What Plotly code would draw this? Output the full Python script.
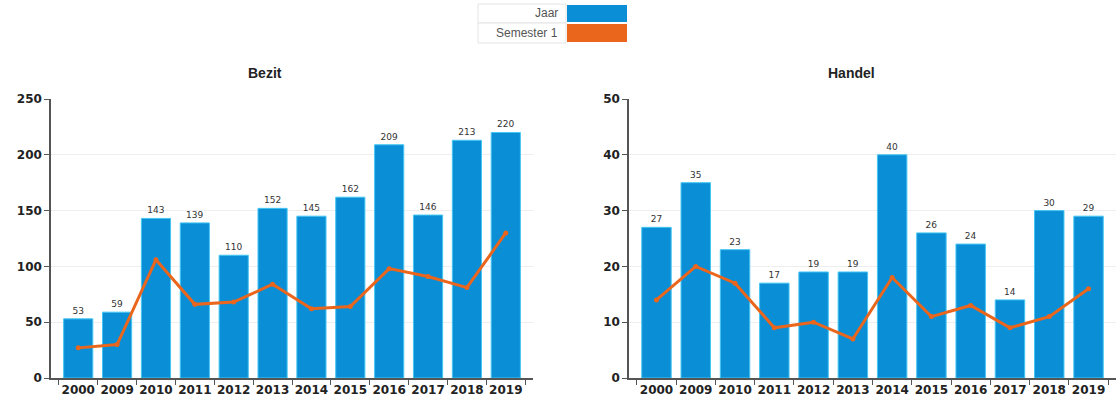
import plotly.graph_objects as go

years = ["2000", "2009", "2010", "2011", "2012", "2013", "2014", "2015", "2016", "2017", "2018", "2019"]
bezit_jaar = [53, 59, 143, 139, 110, 152, 145, 162, 209, 146, 213, 220]
bezit_sem1 = [27, 30, 106, 66, 68, 84, 62, 64, 98, 91, 81, 130]
handel_jaar = [27, 35, 23, 17, 19, 19, 40, 26, 24, 14, 30, 29]
handel_sem1 = [14, 20, 17, 9, 10, 7, 18, 11, 13, 9, 11, 16]
series_names = ["Jaar", "Semester 1"]
titles = ["Bezit", "Handel"]

BLUE = "#0a8ed6"
EDGE = "#45c6f3"
ORANGE = "#ea661d"

W, H = 1117, 400
def px(x):
    return x / W
def py(y):
    return 1 - y / H

fig = go.Figure()

for i, (jaar, sem) in enumerate([(bezit_jaar, bezit_sem1), (handel_jaar, handel_sem1)]):
    xa = "x" if i == 0 else "x2"
    ya = "y" if i == 0 else "y2"
    fig.add_trace(go.Bar(
        x=years, y=jaar, name=series_names[0], xaxis=xa, yaxis=ya,
        marker=dict(color=BLUE, line=dict(color=EDGE, width=1)),
        text=[str(v) for v in jaar], textposition="outside",
        textfont=dict(family="DejaVu Sans", size=9, color="#333333"),
        cliponaxis=False, showlegend=False,
    ))
    fig.add_trace(go.Scatter(
        x=years, y=sem, name=series_names[1], xaxis=xa, yaxis=ya,
        mode="lines+markers",
        line=dict(color=ORANGE, width=3),
        marker=dict(color=ORANGE, size=5),
        showlegend=False,
    ))

tickfont = dict(family="DejaVu Sans", size=12, color="#222222", weight="bold")
common_x = dict(type="category", tickson="boundaries", ticks="outside", ticklen=5,
                tickcolor="#555555", showline=True, linecolor="#555555", linewidth=1.5,
                tickfont=tickfont, showgrid=False, tickangle=0, automargin=False)
common_y = dict(ticks="outside", ticklen=5, tickcolor="#555555", showline=True,
                linecolor="#555555", linewidth=1.5, tickfont=tickfont,
                showgrid=True, gridcolor="#eeeeee", zeroline=False, automargin=False)

fig.update_layout(
    width=W, height=H,
    margin=dict(l=0, r=0, t=0, b=0),
    plot_bgcolor="white", paper_bgcolor="white",
    bargap=0.25,
    xaxis=dict(common_x, domain=[px(51), px(533)], anchor="y"),
    yaxis=dict(common_y, domain=[py(378), py(99)], range=[0, 250], dtick=50, anchor="x"),
    xaxis2=dict(common_x, domain=[px(629), px(1116)], anchor="y2"),
    yaxis2=dict(common_y, domain=[py(378), py(99)], range=[0, 50], dtick=10, anchor="x2"),
)

# subplot titles
for t, xc in zip(titles, [265, 851]):
    fig.add_annotation(text=t, x=px(xc), y=py(73), xref="paper", yref="paper",
                       showarrow=False, xanchor="center", yanchor="middle",
                       font=dict(family="Liberation Sans", size=14, color="#222222", weight="bold"))

# legend table
rows = [(4, 23), (23, 43)]
colors = [BLUE, ORANGE]
for (y0, y1), name, c in zip(rows, series_names, colors):
    fig.add_shape(type="rect", xref="paper", yref="paper",
                  x0=px(478), x1=px(566), y0=py(y1), y1=py(y0),
                  line=dict(color="#e4e4e4", width=1), fillcolor="white")
    fig.add_shape(type="rect", xref="paper", yref="paper",
                  x0=px(567), x1=px(627), y0=py(y1 - 1), y1=py(y0 + 1),
                  line=dict(width=0), fillcolor=c)
    fig.add_annotation(text=name, x=px(560), y=py((y0 + y1) / 2), xref="paper", yref="paper",
                       showarrow=False, xanchor="right", yanchor="middle",
                       font=dict(family="Liberation Sans", size=12, color="#555555"))

fig.write_html("out.html", config={"displayModeBar": False},
               post_script="document.body.style.margin='0px';document.body.style.overflow='hidden';")
